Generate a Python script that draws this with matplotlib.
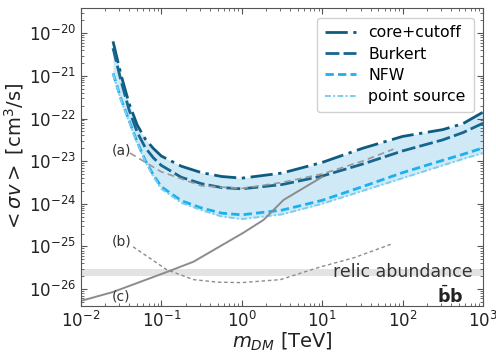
#!/usr/bin/env python3
"""
Annihilation cross-section limits vs dark matter mass (b-bbar channel).
"""

import numpy as np
import matplotlib
matplotlib.use("Agg")
import matplotlib.pyplot as plt
from matplotlib.ticker import LogLocator, NullFormatter

# log10 of DM mass [TeV] shared by the four halo-profile curves
log_mass = [-1.6, -1.5, -1.4, -1.3, -1.2, -1.1, -1.0, -0.75, -0.5, -0.25,
            0.0, 0.5, 1.0, 1.5, 2.0, 2.5, 2.75, 3.0]

# log10 of <sigma v> [cm^3/s]
core_cutoff = [-20.19, -20.98, -21.65, -22.15, -22.48, -22.70, -22.88, -23.12,
               -23.27, -23.36, -23.40, -23.28, -23.03, -22.70, -22.42, -22.26,
               -22.12, -21.85]
burkert = [-20.35, -21.12, -21.80, -22.32, -22.68, -22.92, -23.10, -23.38,
           -23.53, -23.62, -23.65, -23.55, -23.35, -23.07, -22.76, -22.50,
           -22.33, -22.11]
nfw = [-20.94, -21.55, -22.05, -22.55, -22.98, -23.32, -23.60, -23.93,
       -24.10, -24.22, -24.26, -24.15, -23.92, -23.60, -23.27, -22.98,
       -22.84, -22.69]
point_source = [-20.96, -21.58, -22.08, -22.58, -23.01, -23.36, -23.65, -23.98,
                -24.15, -24.30, -24.36, -24.25, -24.00, -23.70, -23.40, -23.10,
                -22.95, -22.81]

# reference curves (a), (b), (c)
curve_a_mass = [-1.39, -1.0, -0.5, 0.0, 0.5, 1.0, 1.5, 1.885]
curve_a = [-22.81, -23.25, -23.58, -23.64, -23.50, -23.30, -23.00, -22.72]
curve_b_mass = [-1.35, -0.93, -0.6, -0.3, 0.0, 0.48, 0.98, 1.39, 1.87]
curve_b = [-25.01, -25.55, -25.78, -25.84, -25.85, -25.78, -25.48, -25.27, -24.94]
curve_c_mass = [-2.0, -1.6, -0.93, -0.6, 0.02, 0.27, 0.52, 1.0]
curve_c = [-26.28, -26.07, -25.60, -25.36, -24.68, -24.38, -23.91, -23.37]

relic_low, relic_high = 2.0e-26, 3.0e-26

def tev(v):
    return 10 ** np.asarray(v)

fig = plt.figure(figsize=(4.96, 3.53), dpi=100)
ax = fig.add_axes([0.163, 0.133, 0.811, 0.844])

m = tev(log_mass)
ax.fill_between(m, tev(point_source), tev(core_cutoff), color="#cfe9f7", lw=0)

ax.plot(m, tev(core_cutoff), color="#0d5c80", lw=2.0,
        dashes=(8, 2, 1.2, 2), label="core+cutoff")
ax.plot(m, tev(burkert), color="#17668f", lw=2.0,
        dashes=(5, 1.5), label="Burkert")
ax.plot(m, tev(nfw), color="#1cb0ec", lw=2.0,
        dashes=(3, 1.5), label="NFW")
ax.plot(m, tev(point_source), color="#7ccdf0", lw=1.4,
        dashes=(3, 1.2, 1, 1.2), label="point source")

ax.plot(tev(curve_a_mass), tev(curve_a), color="#999999", lw=1.2, ls=(0, (4, 2.5)))
ax.plot(tev(curve_b_mass), tev(curve_b), color="#8c8c8c", lw=1.0, ls=(0, (2.5, 2)))
ax.plot(tev(curve_c_mass), tev(curve_c), color="#8c8c8c", lw=1.4)

ax.axhspan(relic_low, relic_high, color="#e3e3e3", lw=0, zorder=0)
ax.text(7.4e2, 2.5e-26, "relic abundance", ha="right", va="center",
        fontsize=12.5, color="#333333")
ax.text(5.7e2, 6.8e-27, r"$\bar{\mathbf{b}}\mathbf{b}$", ha="right", va="center",
        fontsize=12.5, color="#222222")

for lbl, xy in [("(a)", (0.032, 1.8e-23)), ("(b)", (0.032, 1.3e-25)),
                ("(c)", (0.032, 6.6e-27))]:
    ax.text(*xy, lbl, ha="center", va="center", fontsize=10, color="#333333")

ax.set_xscale("log")
ax.set_yscale("log")
ax.set_xlim(1e-2, 1e3)
ax.set_ylim(10 ** -26.4, 10 ** -19.41)
ax.yaxis.set_major_locator(LogLocator(base=10, numticks=20))
ax.yaxis.set_minor_locator(LogLocator(base=10, subs=np.arange(2, 10), numticks=20))
ax.yaxis.set_minor_formatter(NullFormatter())

ax.tick_params(which="both", direction="in", top=True, right=True,
               colors="#555555", labelcolor="#222222", labelsize=12)
ax.tick_params(which="major", length=4)
ax.tick_params(which="minor", length=2)
for s in ax.spines.values():
    s.set_color("#555555")

ax.set_xlabel(r"$m_{DM}$ [TeV]", fontsize=14, color="#222222", labelpad=0)
ax.set_ylabel(r"$<\sigma v>$ [cm$^3$/s]", fontsize=14, color="#222222", labelpad=2)

leg = ax.legend(loc="upper right", fontsize=11.3, labelspacing=0.4,
                handlelength=2.0, borderpad=0.5, handletextpad=0.8,
                borderaxespad=0.6, framealpha=0.9)
leg.get_frame().set_edgecolor("#cccccc")

fig.savefig("out.png", dpi=100)
